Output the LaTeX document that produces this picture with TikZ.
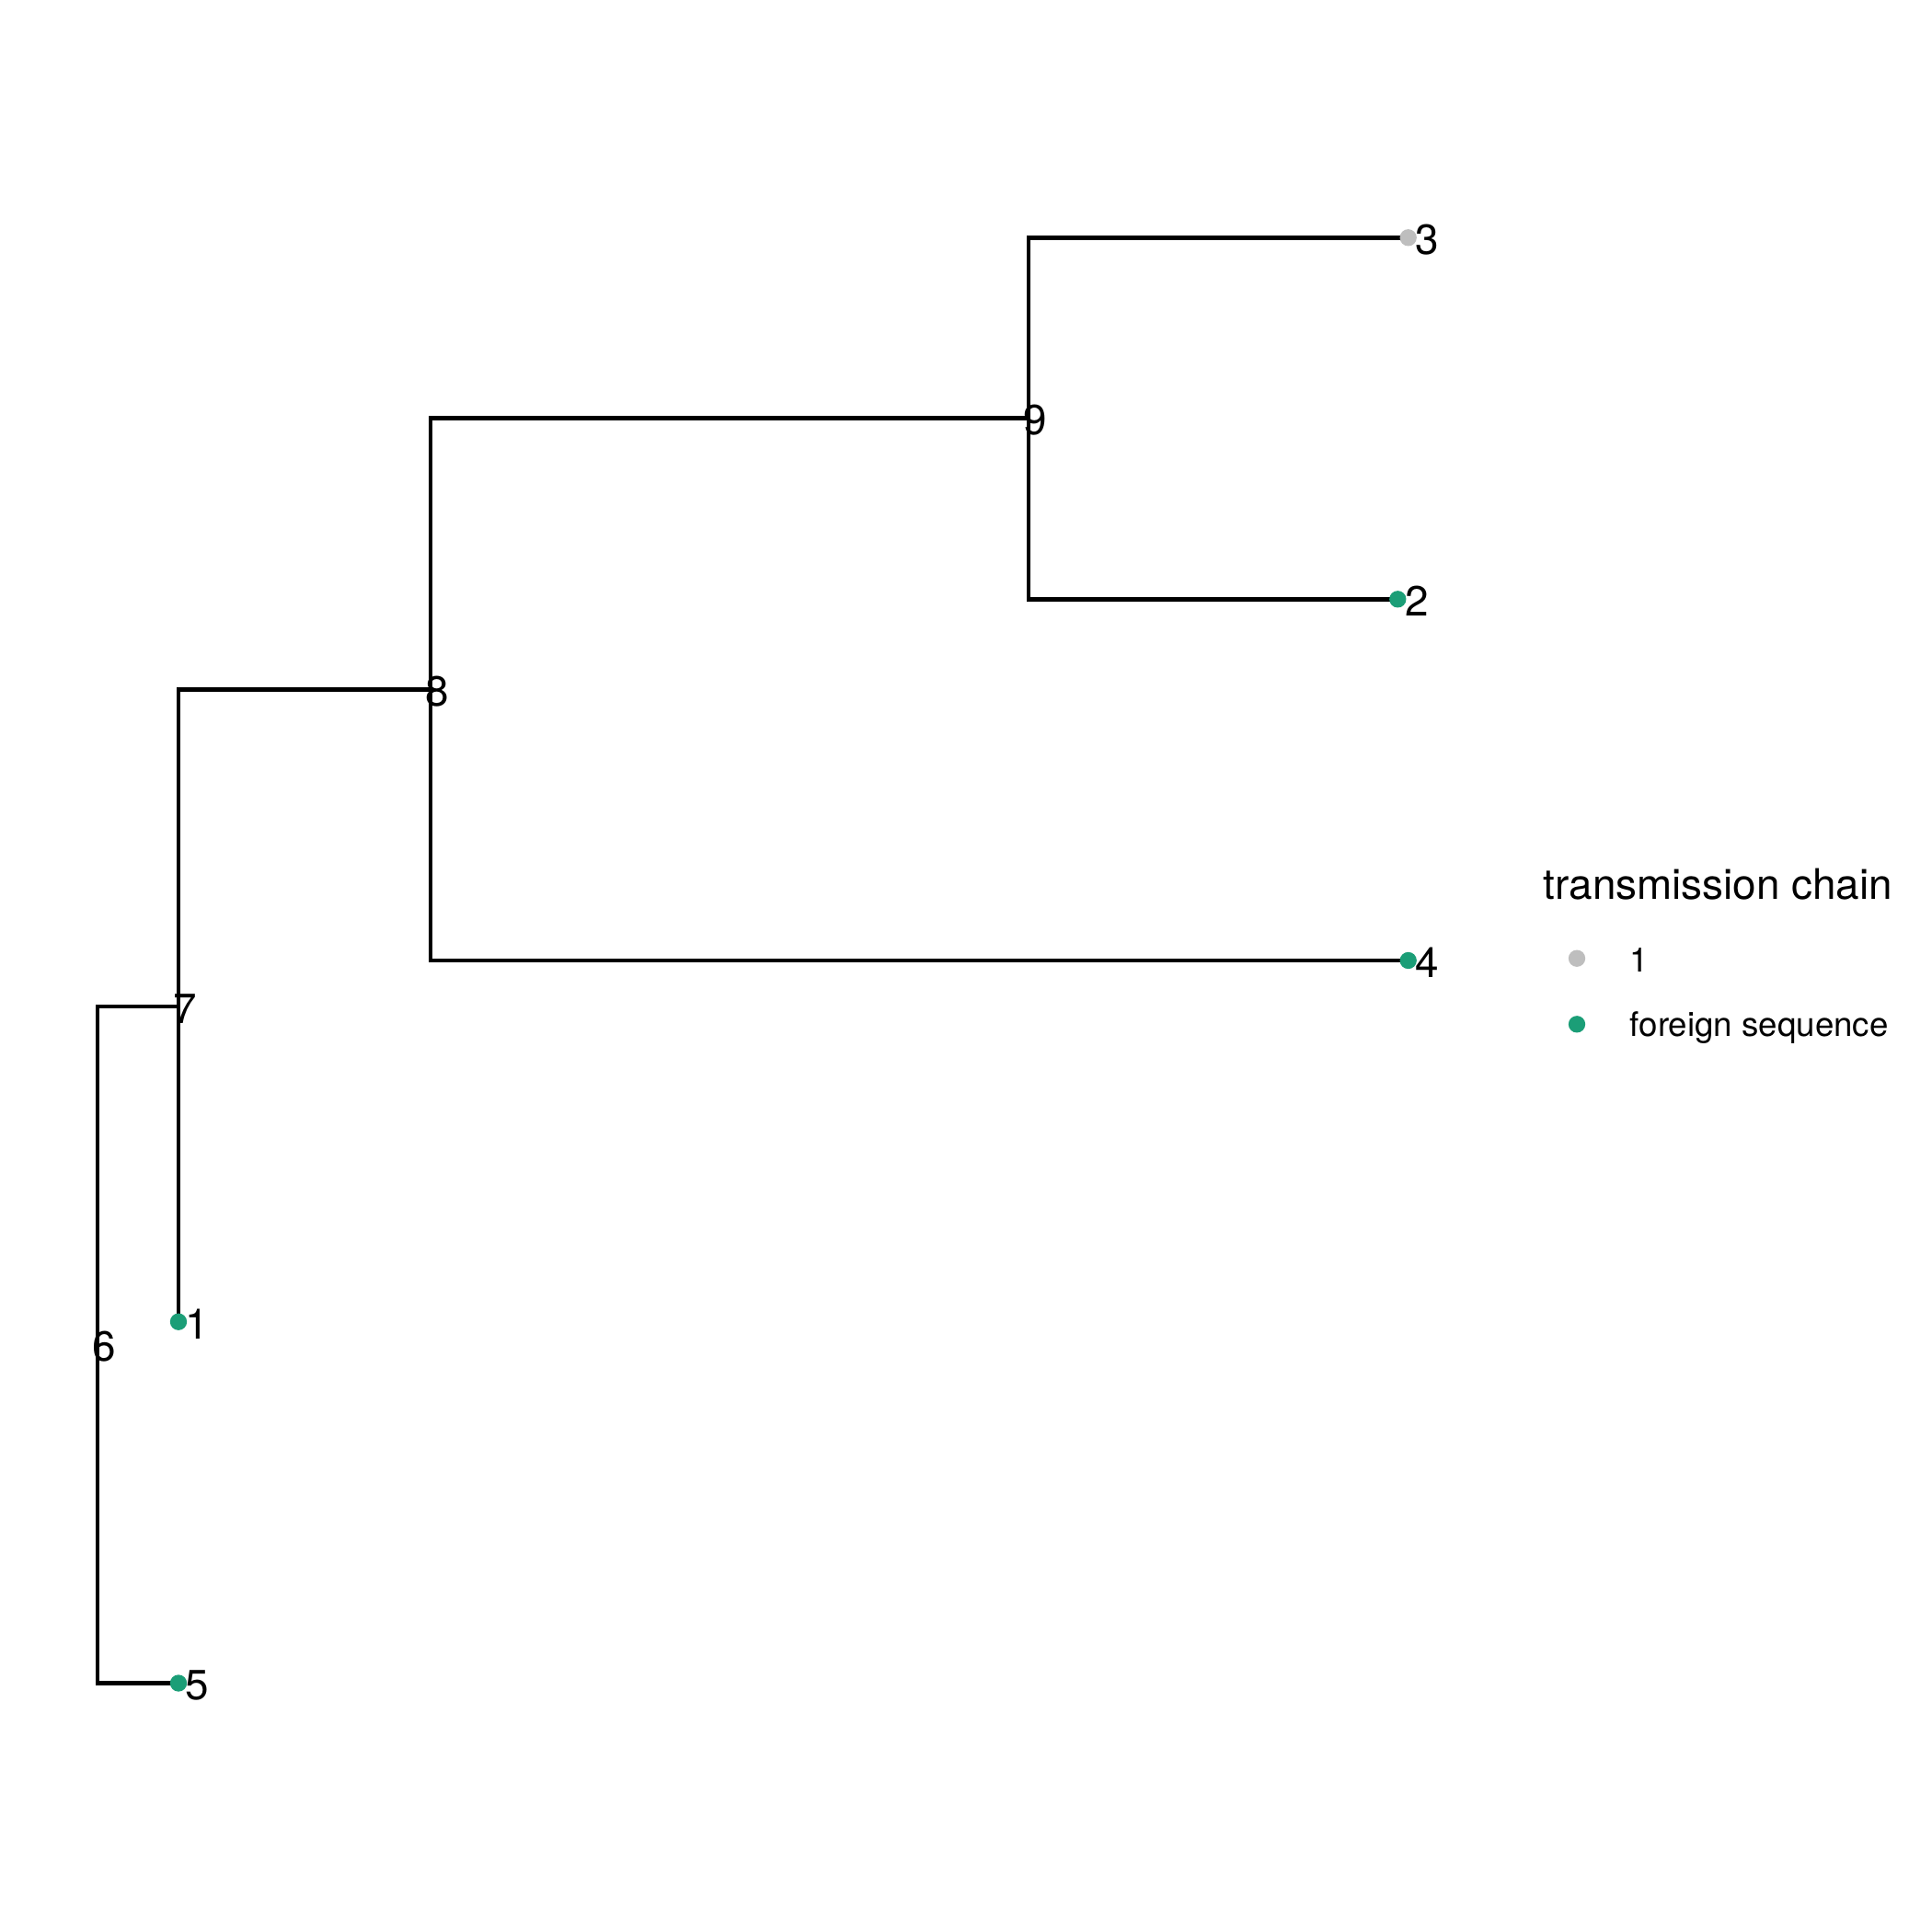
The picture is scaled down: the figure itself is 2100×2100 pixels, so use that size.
\documentclass[tikz,border=0pt]{standalone}
\usepackage{fontspec}
\setmainfont{TeX Gyre Heros}
\definecolor{chainone}{HTML}{BEBEBE}
\definecolor{foreign}{HTML}{1B9E77}
\begin{document}
\begin{tikzpicture}[x=0.24pt,y=-0.24pt,
  branch/.style={line width=1.07pt, line join=miter, line cap=butt},
  tipdot/.style={circle, inner sep=0pt, minimum size=4.4pt, draw=none},
  treelab/.style={anchor=west, inner sep=0pt, yshift=-0.5pt, font=\fontsize{11pt}{13pt}\selectfont},
  legtitle/.style={anchor=base west, inner sep=0pt, font=\fontsize{11pt}{13pt}\selectfont},
  legtext/.style={anchor=base west, inner sep=0pt, font=\fontsize{8.8pt}{10.5pt}\selectfont}]
\useasboundingbox[fill=white] (0,0) rectangle (2100,2100);

% internal nodes
\coordinate (n6) at (106,1461.5);
\coordinate (n7) at (194,1094);
\coordinate (n8) at (468,749.5);
\coordinate (n9) at (1118,454.7);

% tips
\coordinate (t3) at (1530.7,258.3);
\coordinate (t2) at (1519.3,651.3);
\coordinate (t4) at (1530.7,1044);
\coordinate (t1) at (194,1436.7);
\coordinate (t5) at (194,1829.5);

% branches (rectangular layout)
\draw[branch] (n6) |- (n7);
\draw[branch] (n6) |- (t5);
\draw[branch] (n7) |- (n8);
\draw[branch] (n7) |- (t1);
\draw[branch] (n8) |- (n9);
\draw[branch] (n8) |- (t4);
\draw[branch] (n9) |- (t3);
\draw[branch] (n9) |- (t2);

% tip points
\node[tipdot, fill=chainone] (d3) at (t3) {};
\node[tipdot, fill=foreign] (d2) at (t2) {};
\node[tipdot, fill=foreign] (d4) at (t4) {};
\node[tipdot, fill=foreign] (d1) at (t1) {};
\node[tipdot, fill=foreign] (d5) at (t5) {};

% tip labels
\node[treelab] (l3) at (1537.7,258.3) {3};
\node[treelab] (l2) at (1526.3,651.3) {2};
\node[treelab] (l4) at (1537.7,1044) {4};
\node[treelab] (l1) at (201,1436.7) {1};
\node[treelab] (l5) at (201,1829.5) {5};

% internal node labels
\node[treelab] (l6) at (100,1461.5) {6};
\node[treelab] (l7) at (188,1094) {7};
\node[treelab] (l8) at (462,749.5) {8};
\node[treelab] (l9) at (1112,454.7) {9};

% legend
\node[legtitle] (legt) at (1677,977) {transmission chain};
\node[tipdot, fill=chainone] (kone) at (1714,1041.7) {};
\node[tipdot, fill=foreign] (kfor) at (1714,1113.3) {};
\node[legtext] (lone) at (1771,1056) {1};
\node[legtext] (lfor) at (1771,1126) {foreign sequence};
\end{tikzpicture}
\end{document}
